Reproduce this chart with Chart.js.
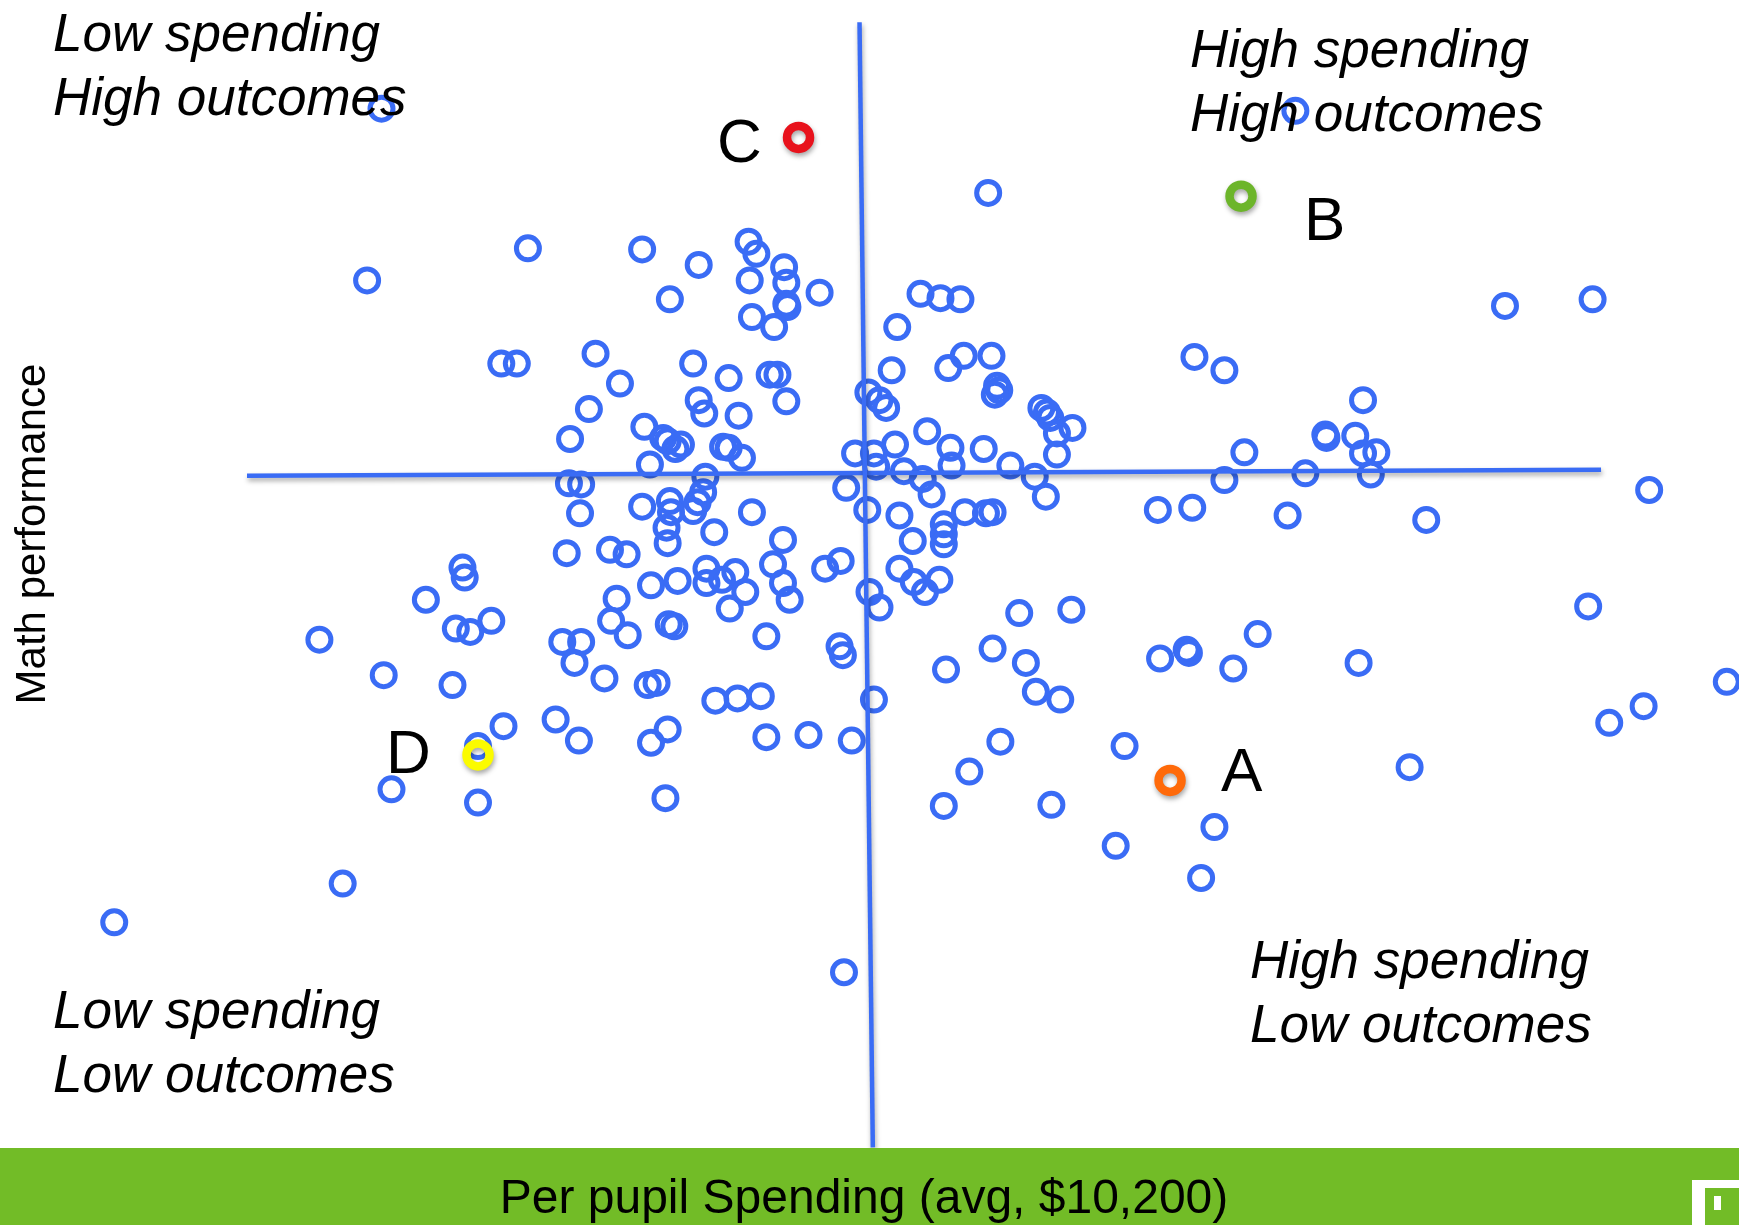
<!DOCTYPE html>
<html>
<head>
<meta charset="utf-8">
<script src="https://cdn.jsdelivr.net/npm/chart.js@4.4.1/dist/chart.umd.min.js"></script>
<style>
  html, body { margin: 0; padding: 0; background: #ffffff; }
  #wrap { width: 1739px; height: 1225px; position: relative; }
</style>
</head>
<body>
<div id="wrap"><canvas id="c"></canvas></div>
<script>
// ---- Data (picture units: spending 0..1568 left->right, math position 0..1105 top->bottom) ----
const spendX = [
  344,331,476,452,466,579,630,604,675,682,707,709,709,710,676,739,678,698,537,559,625,657,694,701,709,531,630,635,666,581,514,598,602,609,614,586,652,657,669,771,513,524,636,
  763,634,629,625,523,579,604,605,601,602,644,678,706,511,550,565,587,611,637,637,651,663,672,658,697,706,712,744,758,556,551,566,603,608,691,757,760,507,524,518,545,584,592,645,665,686,501,522,602,587,691,729,768,600,
  417,419,384,443,411,424,288,346,408,454,431,353,431,309,103,
  891,830,848,866,809,804,855,869,894,899,901,897,783,793,799,939,944,947,967,953,953,836,807,788,790,815,832,840,857,858,887,911,933,943,782,811,851,851,851,870,889,895,823,811,824,834,847,784,793,919,966,895,925,853,934,956,788,902,874,851,948,761,
  1168,1357,1436,1077,1104,1229,1122,1195,1196,1222,1229,1241,1104,1177,1236,1044,1075,1161,1286,1487,1432,1134,1046,1070,1072,1112,1225,1557,1482,1451,1014,1271,1095,1006,1083
];
const mathY = [
  98,253,224,328,328,225,239,270,218,229,241,255,274,277,253,264,286,295,319,346,328,341,338,338,362,369,361,373,375,385,396,395,398,405,401,419,403,404,413,409,436,437,430,
  440,444,453,461,463,457,452,462,476,490,480,462,487,499,496,500,528,524,513,526,523,516,534,549,509,526,541,513,506,540,560,573,563,565,574,583,591,579,579,598,612,618,616,632,630,628,649,668,658,670,665,663,668,720,
  512,521,541,560,567,570,577,609,618,655,673,712,724,797,832,
  174,265,269,270,295,334,332,321,321,348,352,356,354,361,368,368,372,377,386,391,410,389,401,409,421,425,432,446,404,420,405,420,430,448,460,465,473,482,491,462,463,462,488,513,525,534,523,534,548,553,550,585,598,604,624,631,631,669,696,727,726,877,
  100,276,270,322,334,361,408,392,395,393,409,408,433,427,428,460,458,465,469,442,547,572,594,586,589,603,598,615,637,652,673,692,746,763,792
];
const highlightLabels = ['A', 'B', 'C', 'D'];
const highlightX = [1055, 1119, 720, 431];
const highlightY = [704, 177, 124, 681];
// average lines (avg spending, avg math performance)
const avgSpendX = [775, 787];
const avgSpendY = [20, 1035];
const avgMathX = [222.7, 1443.6];
const avgMathY = [429.2, 423.8];

const axisTitleX = 'Per pupil Spending (avg, $10,200)';
const axisTitleY = 'Math performance';
const quadrantTexts = [
  ['Low spending', 'High outcomes'],
  ['High spending', 'High outcomes'],
  ['Low spending', 'Low outcomes'],
  ['High spending', 'Low outcomes']
];

// ---- styles / layout ----
const BLUE = '#3a6cf5';
const highlightColors = ['#ff6a0a', '#6cb52a', '#e8121c', '#fbfb00'];
const FONT = '"Liberation Sans", Arial, Helvetica, sans-serif';

const toPts = (xs, ys) => xs.map((x, i) => ({ x: x, y: ys[i] }));

const shadowPlugin = {
  id: 'dropShadow',
  beforeDatasetDraw(chart, args) {
    const ds = chart.data.datasets[args.index];
    if (ds.dropShadow) {
      const ctx = chart.ctx;
      ctx.save();
      ctx.shadowColor = 'rgba(0,0,0,0.35)';
      ctx.shadowBlur = 5;
      ctx.shadowOffsetX = 1;
      ctx.shadowOffsetY = 3;
    }
  },
  afterDatasetDraw(chart, args) {
    const ds = chart.data.datasets[args.index];
    if (ds.dropShadow) chart.ctx.restore();
  }
};

const textPlugin = {
  id: 'texts',
  afterDraw(chart) {
    const ctx = chart.ctx;
    const W = chart.width, H = chart.height;
    ctx.save();
    // green banner with x-axis title
    ctx.fillStyle = '#72bc27';
    ctx.fillRect(0, 1148, W, H - 1148);
    ctx.fillStyle = '#000';
    ctx.font = '48px ' + FONT;
    ctx.textAlign = 'center';
    ctx.textBaseline = 'alphabetic';
    ctx.fillText(axisTitleX, 864, 1213);
    // logo fragment
    ctx.fillStyle = '#ffffff';
    ctx.fillRect(1692, 1180, 13, 45);
    ctx.fillRect(1692, 1180, 47, 8);
    ctx.fillRect(1714, 1196, 7, 14);

    // quadrant texts
    ctx.fillStyle = '#000';
    ctx.textAlign = 'left';
    ctx.font = 'italic 53px ' + FONT;
    const qpos = [[53, 51], [1190, 67], [53, 1028], [1250, 978]];
    quadrantTexts.forEach((lines, i) => {
      lines.forEach((t, j) => ctx.fillText(t, qpos[i][0], qpos[i][1] + j * 64));
    });

    // highlight letters
    ctx.font = '62px ' + FONT;
    const lpos = { A: [1221, 791], B: [1304, 240], C: [717, 162], D: [386, 773] };
    highlightLabels.forEach(l => ctx.fillText(l, lpos[l][0], lpos[l][1]));

    // y title
    ctx.font = '42px ' + FONT;
    ctx.translate(45, 534);
    ctx.rotate(-Math.PI / 2);
    ctx.textAlign = 'center';
    ctx.fillText(axisTitleY, 0, 0);
    ctx.restore();
  }
};

new Chart(document.getElementById('c'), {
  type: 'scatter',
  data: {
    datasets: [
      {
        label: 'Highlighted districts',
        data: toPts(highlightX, highlightY),
        pointRadius: 11.5,
        pointHoverRadius: 11.5,
        borderWidth: 8.5,
        pointBorderColor: highlightColors,
        pointBackgroundColor: 'rgba(0,0,0,0)',
        dropShadow: true,
        order: 0
      },
      {
        label: 'Average spending',
        data: toPts(avgSpendX, avgSpendY),
        showLine: true,
        pointRadius: 0,
        borderWidth: 4.5,
        borderColor: BLUE,
        dropShadow: true,
        order: 1
      },
      {
        label: 'Average math performance',
        data: toPts(avgMathX, avgMathY),
        showLine: true,
        pointRadius: 0,
        borderWidth: 4.5,
        borderColor: BLUE,
        dropShadow: true,
        order: 1
      },
      {
        label: 'Districts',
        data: toPts(spendX, mathY),
        pointRadius: 11.5,
        pointHoverRadius: 11.5,
        borderWidth: 5,
        pointBorderColor: BLUE,
        pointBackgroundColor: 'rgba(0,0,0,0)',
        order: 2
      }
    ]
  },
  options: {
    responsive: true,
    maintainAspectRatio: false,
    animation: false,
    devicePixelRatio: 1,
    layout: { padding: 0, autoPadding: false },
    plugins: { legend: { display: false }, tooltip: { enabled: false } },
    scales: {
      x: { type: 'linear', min: 0, max: 1568, display: false },
      y: { type: 'linear', min: 0, max: 1105, reverse: true, display: false }
    }
  },
  plugins: [shadowPlugin, textPlugin]
});
</script>
</body>
</html>
